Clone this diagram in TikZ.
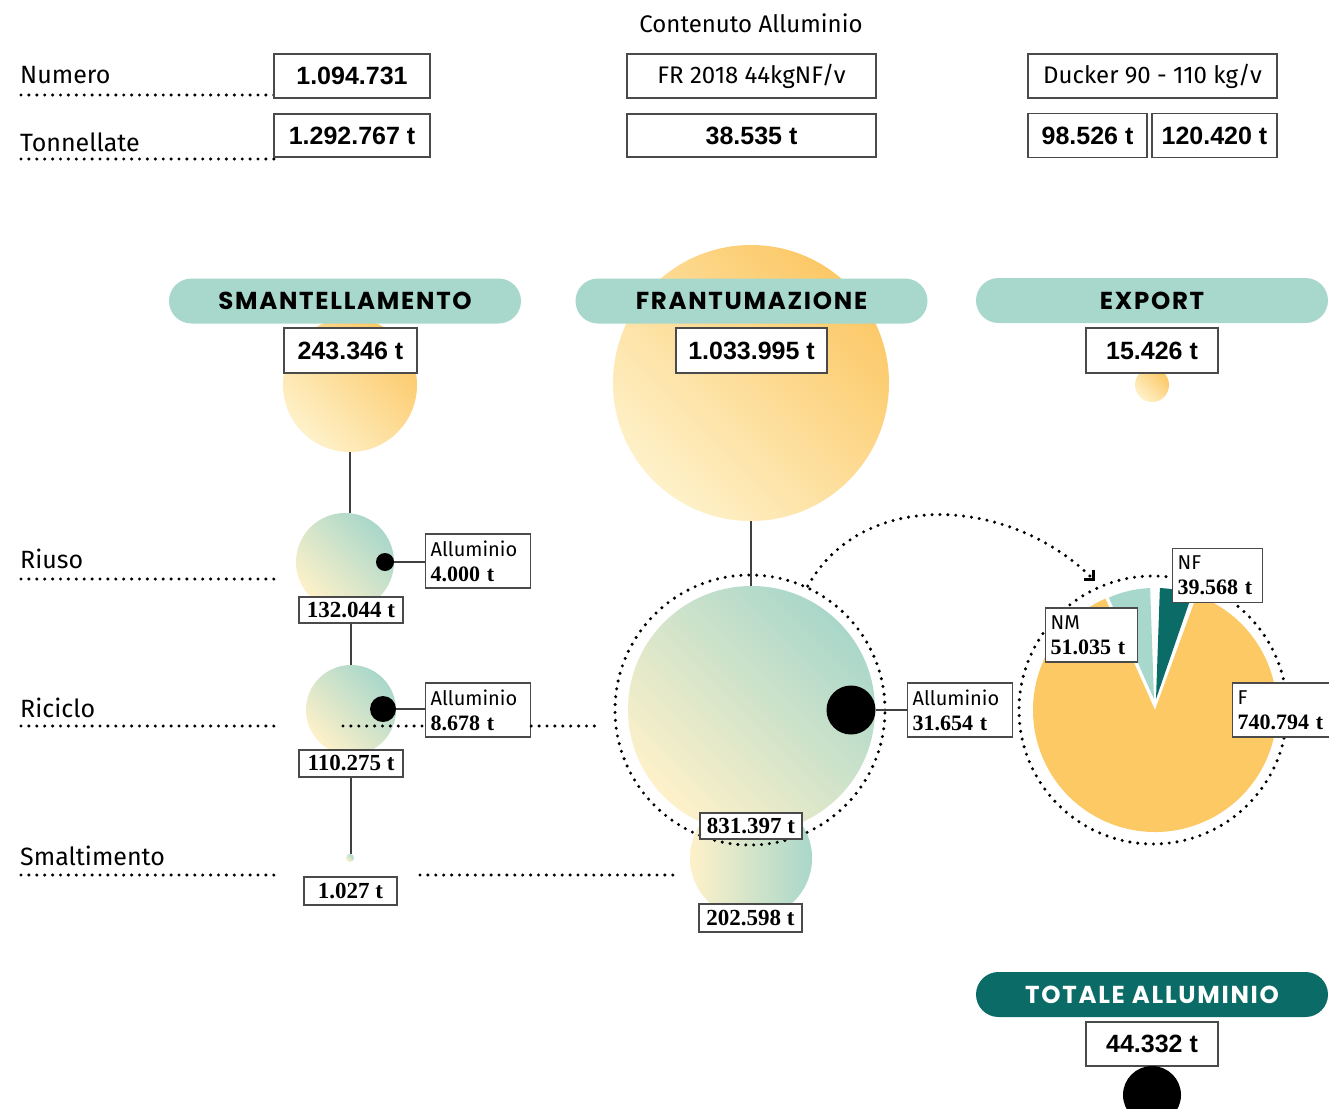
\documentclass[tikz,border=0pt]{standalone}
\usepackage{fontspec}
\usetikzlibrary{arrows.meta}
\setmainfont{Fira Sans}
\newfontfamily\numfont{Liberation Sans}
\newfontfamily\serifnum{Liberation Serif}
\newfontfamily\headfont{Poppins}[LetterSpace=7]
\newcommand\pxsize[1]{\fontsize{#1pt}{#1pt}\selectfont}
\newcommand\boldval[1]{{\serifnum\bfseries\fontsize{22pt}{25pt}\selectfont #1}}

\definecolor{pillteal}{HTML}{A8D8CC}
\definecolor{darkteal}{HTML}{0B6B66}
\definecolor{pieyellow}{HTML}{FCC965}
\definecolor{paleyellow}{HTML}{FEF1C9}
\definecolor{warmyellow}{HTML}{FCC866}
\definecolor{softteal}{HTML}{A9D7CA}
\definecolor{boxgray}{HTML}{4A4A4A}

\tikzset{
  numbox/.style={draw=boxgray, line width=1.2pt, fill=white, inner sep=0pt,
    font=\numfont\bfseries\pxsize{25}},
  plainbox/.style={draw=boxgray, line width=1.2pt, fill=white, inner sep=0pt,
    font=\pxsize{24}},
  smallbox/.style={draw=boxgray, line width=1.2pt, fill=white, inner sep=0pt,
    font=\serifnum\bfseries\pxsize{23}},
  infobox/.style={draw=boxgray, line width=1.2pt, fill=white, anchor=west,
    align=left, text width=#1, inner xsep=5pt, inner ysep=3pt,
    minimum height=54pt, font=\fontsize{20pt}{25pt}\selectfont},
  infobox/.default=95pt,
  pill/.style={fill=pillteal, rounded corners=22.5pt, minimum width=352pt,
    minimum height=45pt, inner sep=0pt, font=\headfont\bfseries\pxsize{24.5}},
  rowlabel/.style={anchor=base west, inner sep=0pt, font=\pxsize{25}},
  dotline/.style={line width=3.4pt, line cap=round, dash pattern=on 0pt off 7.9pt},
  conn/.style={line width=1.2pt, draw=black!75},
  bubble/.style={circle, inner sep=0pt, minimum size=#1},
  warm/.style={left color=paleyellow, right color=warmyellow, shading angle=135},
  cool/.style={left color=paleyellow, right color=softteal, shading angle=135},
  dot/.style={circle, fill=black, inner sep=0pt, minimum size=#1},
}

\begin{document}
\begin{tikzpicture}[x=1pt, y=-1pt]
\useasboundingbox (0,0) rectangle (1329,1108);
\fill[white] (0,0) rectangle (1329,1108);

% ---------- header table ----------
\node[anchor=base, inner sep=0pt, font=\pxsize{24}] (contenuto) at (751,33) {Contenuto Alluminio};

\node[rowlabel] (numero) at (20,83) {Numero};
\node[rowlabel] (tonn) at (20,151) {Tonnellate};
\coordinate (numL) at (21,95);   \coordinate (numR) at (274,95);
\coordinate (tonL) at (21,159);  \coordinate (tonR) at (274,159);
\draw[dotline] (numL) -- (numR);
\draw[dotline] (tonL) -- (tonR);

\node[numbox, minimum width=156pt, minimum height=44pt] (nveic) at (352,76) {1.094.731};
\node[numbox, minimum width=156pt, minimum height=43pt] (tveic) at (352,135.5) {1.292.767 t};
\node[plainbox, minimum width=249pt, minimum height=44pt] (fr) at (751.5,76) {FR 2018 44kgNF/v};
\node[numbox, minimum width=249pt, minimum height=43pt] (frt) at (751.5,135.5) {38.535 t};
\node[plainbox, minimum width=249pt, minimum height=44pt] (ducker) at (1152.5,76) {Ducker 90 - 110 kg/v};
\node[numbox, minimum width=119pt, minimum height=44pt] (duckA) at (1087.5,135.5) {98.526 t};
\node[numbox, minimum width=125pt, minimum height=44pt] (duckB) at (1214.5,135.5) {120.420 t};

% ---------- stage bubbles (behind the headers) ----------
\node[bubble=134pt, warm] (smantC) at (350,385) {};
\node[bubble=276pt, warm] (frantC) at (751,383) {};
\node[bubble=34pt, warm] (exportC) at (1152,385) {};

% ---------- stage headers ----------
\node[pill] (smant) at (345,301) {SMANTELLAMENTO};
\node[pill] (frant) at (751.5,301) {FRANTUMAZIONE};
\node[pill] (export) at (1152,300.5) {EXPORT};

\node[numbox, minimum width=133pt, minimum height=45pt] (smantV) at (350.5,350.5) {243.346 t};
\node[numbox, minimum width=151pt, minimum height=45pt] (frantV) at (751.5,350.5) {1.033.995 t};
\node[numbox, minimum width=132pt, minimum height=45pt] (exportV) at (1152,350.5) {15.426 t};

% ---------- row labels ----------
\node[rowlabel] (riuso) at (20,568) {Riuso};
\node[rowlabel] (riciclo) at (20,717) {Riciclo};
\node[rowlabel] (smalt) at (20,865) {Smaltimento};
\coordinate (riuL) at (21,579);  \coordinate (riuR) at (274,579);
\coordinate (ricL) at (21,726);  \coordinate (ricR) at (274,726);
\coordinate (smaL) at (21,875);  \coordinate (smaR) at (274,875);
\draw[dotline] (riuL) -- (riuR);
\draw[dotline] (ricL) -- (ricR);
\draw[dotline] (smaL) -- (smaR);

% ---------- dismantling branch ----------
\node[bubble=98pt, cool] (riusoC) at (345,562) {};
\node[bubble=90pt, cool] (ricC) at (351,710) {};
\node[bubble=8pt, cool] (smaltC) at (350,858) {};

\draw[conn] (smantC.south) -- (smantC.south |- riusoC.north);

\node[dot=18pt] (riusoDot) at (385,562) {};
\node[infobox] (alRiuso) at (425,561) {Alluminio\\\boldval{4.000 t}};
\draw[conn] (riusoDot.east) -- (alRiuso.west |- riusoDot.east);

\node[smallbox, minimum width=104pt, minimum height=26pt] (v132) at (351,610) {132.044 t};
\draw[conn] (v132.south) -- (v132.south |- ricC.north);

\coordinate (ricIn) at (343,726);
\coordinate (ricOut) at (597,726);
\node[dot=26pt] (ricDot) at (383,709) {};
\node[infobox] (alRic) at (425,710) {Alluminio\\\boldval{8.678 t}};
\draw[conn] (ricDot.east) -- (alRic.west |- ricDot.east);
\draw[dotline] (ricIn) -- (alRic.west |- ricIn);
\draw[dotline] (alRic.east |- ricOut) -- (ricOut);

\node[smallbox, minimum width=104pt, minimum height=27pt] (v110) at (351,763.5) {110.275 t};
\draw[conn] (v110.south) -- (v110.south |- smaltC.north);
\node[smallbox, minimum width=93pt, minimum height=28pt] (v1027) at (350.5,891) {1.027 t};

% ---------- shredding branch ----------
\coordinate (smaIn) at (420,875);
\coordinate (smaOut) at (674,875);
\draw[dotline] (smaIn) -- (smaOut);

\node[bubble=122pt, left color=paleyellow, right color=softteal] (lowC) at (751,858) {};
\node[bubble=247pt, cool] (bigC) at (751.5,709.5) {};
\node[circle, draw, dotline, inner sep=0pt, minimum size=270pt] (fring) at (750,710) {};
\draw[conn] (frantC.south) -- (frantC.south |- bigC.north);

\node[dot=49pt] (bigDot) at (851,710) {};
\node[infobox] (alFrant) at (907,710) {Alluminio\\\boldval{31.654 t}};
\draw[conn] (bigDot.east) -- (alFrant.west |- bigDot.east);

\node[smallbox, minimum width=102pt, minimum height=26pt] (v831) at (751,826) {831.397 t};
\node[smallbox, minimum width=103pt, minimum height=28pt] (v202) at (750.5,918) {202.598 t};

% ---------- material split pie ----------
\coordinate (pieC) at (1155,710);
\coordinate (nmApex) at (1154,699);
\coordinate (nfApex) at (1156,699);
\fill[pieyellow] (pieC) -- ++(-114:122) arc[start angle=-114, end angle=-430, radius=122] -- cycle;
\fill[pillteal] (nmApex) -- ++(-92:111) arc[start angle=-92, end angle=-114, radius=111] -- cycle;
\fill[darkteal] (nfApex) -- ++(-71:111) arc[start angle=-71, end angle=-88, radius=111] -- cycle;
\node[circle, draw, dotline, inner sep=0pt, minimum size=268pt] (pring) at (1153,710) {};

\coordinate (arrEnd) at (1095,581);
\draw[dotline, -{Straight Barb[angle=90:10pt, line width=3pt]}] (fring.65) .. controls (862,488) and (1010,496) .. (arrEnd);

\node[infobox=80pt] (nfBox) at (1172,575.5) {NF\\\boldval{39.568 t}};
\node[infobox=82pt] (nmBox) at (1045,635) {NM\\\boldval{51.035 t}};
\node[infobox] (fBox) at (1232,710) {F\\\boldval{740.794 t}};

% ---------- total ----------
\node[pill, fill=darkteal, text=white] (totale) at (1152,994.5) {TOTALE ALLUMINIO};
\node[numbox, minimum width=132pt, minimum height=44pt] (totV) at (1152,1044) {44.332 t};
\node[dot=58pt] (totDot) at (1152,1095) {};
\end{tikzpicture}
\end{document}
